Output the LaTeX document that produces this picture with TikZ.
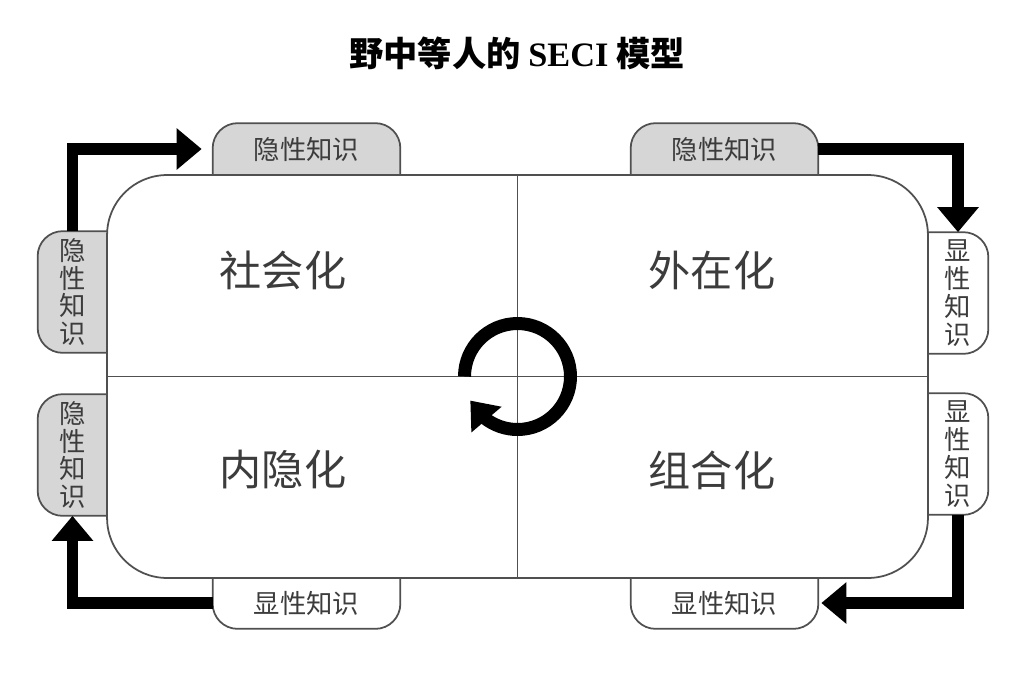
\documentclass[tikz,border=0pt]{standalone}
\usepackage{xcolor}
\usepackage{fontspec}
\setmainfont{Noto Sans CJK SC}
\newfontfamily\titlelatin{Liberation Serif}
\usepackage{tikz}
\usetikzlibrary{arrows.meta,bending,backgrounds}

\definecolor{tabgray}{RGB}{214,214,214}
\definecolor{edgegray}{RGB}{80,80,80}
\definecolor{textgray}{RGB}{60,60,60}

\begin{document}
\begin{tikzpicture}[x=0.02cm, y=0.02cm]
    % Styles
    \tikzstyle{quad} = [rectangle, draw=edgegray, fill=white, line width=1pt, rounded corners=1.2cm, minimum width=16.42cm, minimum height=8.06cm]
    \tikzstyle{tabh} = [minimum width=3.74cm, minimum height=1.02cm, inner sep=0pt, text=textgray, font=\fontsize{15}{18}\selectfont]
    \tikzstyle{tabv} = [minimum height=2.42cm, inner sep=0pt, text=textgray, align=center, font=\fontsize{15}{15.8}\selectfont]
    \tikzstyle{tabline} = [draw=edgegray, line width=1pt, rounded corners=0.5cm]
    \tikzstyle{mode} = [text=textgray, font=\fontsize{24}{28}\selectfont]
    \tikzstyle{arrow} = [line width=0.23cm, line join=miter, -{Triangle[length=0.5cm, width=0.8cm]}]

    \useasboundingbox (0,0) rectangle (1034,-684);

    % Title
    \node[font=\bfseries\fontsize{19.5}{23}\selectfont] (title) at (517,-53) {野中等人的 {\titlelatin SECI} 模型};

    % Main box
    \node[quad] (seci) at (517.5,-376.5) {};
    \draw[draw=edgegray, line width=1pt] (seci.north) -- (seci.south);
    \draw[draw=edgegray, line width=1pt] (seci.west) -- (seci.east);

    % Quadrants
    \node[mode] (social) at (283,-270) {社会化};
    \node[mode] (extern) at (712,-270) {外在化};
    \node[mode] (intern) at (283,-470) {内隐化};
    \node[mode] (combin) at (712,-470) {组合化};

    % Tabs
    \node[tabh] (tacitTL) at (306.5,-149) {隐性知识};
    \node[tabh] (tacitTR) at (724.5,-149) {隐性知识};
    \node[tabh] (explBL) at (306.5,-603) {显性知识};
    \node[tabh] (explBR) at (724.5,-603) {显性知识};
    \node[tabv, minimum width=1.38cm] (tacitLU) at (72.5,-292) {隐\\性\\知\\识};
    \node[tabv, minimum width=1.38cm] (tacitLL) at (72.5,-455) {隐\\性\\知\\识};
    \node[tabv, minimum width=1.2cm] (explRU) at (958,-293) {显\\性\\知\\识};
    \node[tabv, minimum width=1.2cm] (explRL) at (958,-454) {显\\性\\知\\识};

    \begin{scope}[on background layer]
        \path[tabline, fill=tabgray] (tacitTL.south west) -- (tacitTL.north west) -- (tacitTL.north east) -- (tacitTL.south east);
        \path[tabline, fill=tabgray] (tacitTR.south west) -- (tacitTR.north west) -- (tacitTR.north east) -- (tacitTR.south east);
        \path[tabline, fill=white] (explBL.north west) -- (explBL.south west) -- (explBL.south east) -- (explBL.north east);
        \path[tabline, fill=white] (explBR.north west) -- (explBR.south west) -- (explBR.south east) -- (explBR.north east);
        \path[tabline, fill=tabgray] (tacitLU.north east) -- (tacitLU.north west) -- (tacitLU.south west) -- (tacitLU.south east);
        \path[tabline, fill=tabgray] (tacitLL.north east) -- (tacitLL.north west) -- (tacitLL.south west) -- (tacitLL.south east);
        \path[tabline, fill=white] (explRU.north west) -- (explRU.north east) -- (explRU.south east) -- (explRU.south west);
        \path[tabline, fill=white] (explRL.north west) -- (explRL.north east) -- (explRL.south east) -- (explRL.south west);
    \end{scope}

    % Connections
    \draw[arrow, shorten >=0.22cm] (tacitLU.north) |- (tacitTL.west);
    \draw[arrow] (tacitTR.east) -| (explRU.north);
    \draw[arrow, shorten >=0.06cm] (explRL.south) |- (explBR.east);
    \draw[arrow] (explBL.west) -| (tacitLL.south);

    % Spiral
    \draw[line width=0.26cm, -{Triangle[length=0.5cm, width=0.76cm]}] ([shift={(180:1.06cm)}]seci.center) arc[start angle=180, end angle=-153, radius=1.06cm];
\end{tikzpicture}
\end{document}
